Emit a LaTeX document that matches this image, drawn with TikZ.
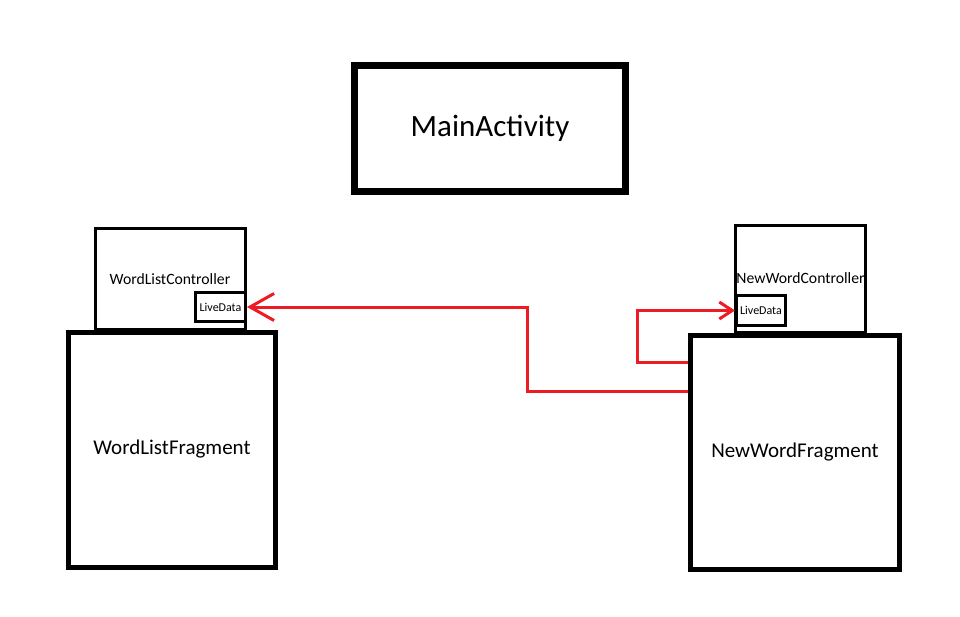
\documentclass[tikz,border=0pt]{standalone}
\usepackage{fontspec}
\setmainfont{Carlito}
\usepackage{xcolor}
\definecolor{paintred}{RGB}{237,28,36}
\usetikzlibrary{arrows.meta}

\begin{document}
\begin{tikzpicture}[x=1pt, y=-1pt]
        \tikzstyle{block} = [rectangle, draw, fill=white, inner sep=0pt, text centered]
        \tikzstyle{activity} = [block, line width=7pt, minimum width=271pt, minimum height=126pt, font=\fontsize{31}{36}\selectfont]
        \tikzstyle{fragment} = [block, line width=5pt, font=\fontsize{21}{25}\selectfont]
        \tikzstyle{controller} = [block, line width=3pt, font=\fontsize{15.7}{19}\selectfont]
        \tikzstyle{livedata} = [block, line width=3pt, font=\fontsize{12}{14}\selectfont]
        \tikzstyle{line} = [draw, paintred, line width=3pt]

    \useasboundingbox (0,0) rectangle (960,616);

    \node [activity] (main activity) at (490,128.5) {MainActivity};

    \node [controller, minimum width=150pt, minimum height=101.5pt] (word list controller) at (170,279) {WordListController};
    \node [livedata, minimum width=50pt, minimum height=29pt] (live data 1) at (220.5,307) {LiveData};
    \node [fragment, minimum width=207pt, minimum height=235pt] (word list fragment) at (172,450) {\raisebox{5pt}{WordListFragment}};

    \node [controller, minimum width=130pt, minimum height=107.5pt] (new word controller) at (800.5,279) {\raisebox{1.5pt}{NewWordController}};
    \node [livedata, minimum width=49pt, minimum height=30pt] (live data 2) at (761,310.5) {LiveData};
    \node [fragment, minimum width=209pt, minimum height=234pt] (new word fragment) at (795,452.5) {\raisebox{2.5pt}{NewWordFragment}};

    \coordinate (bend 1) at (527,391);
    \coordinate (bend 2) at (637,362);

    \path [line, -{Straight Barb[length=24pt, width=27pt]}] (new word fragment.west |- bend 1) -- (bend 1) |- (live data 1.east);
    \path [line, -{Straight Barb[length=13pt, width=17pt]}] (new word fragment.west |- bend 2) -- (bend 2) |- (live data 2.west);
    \end{tikzpicture}
\end{document}
